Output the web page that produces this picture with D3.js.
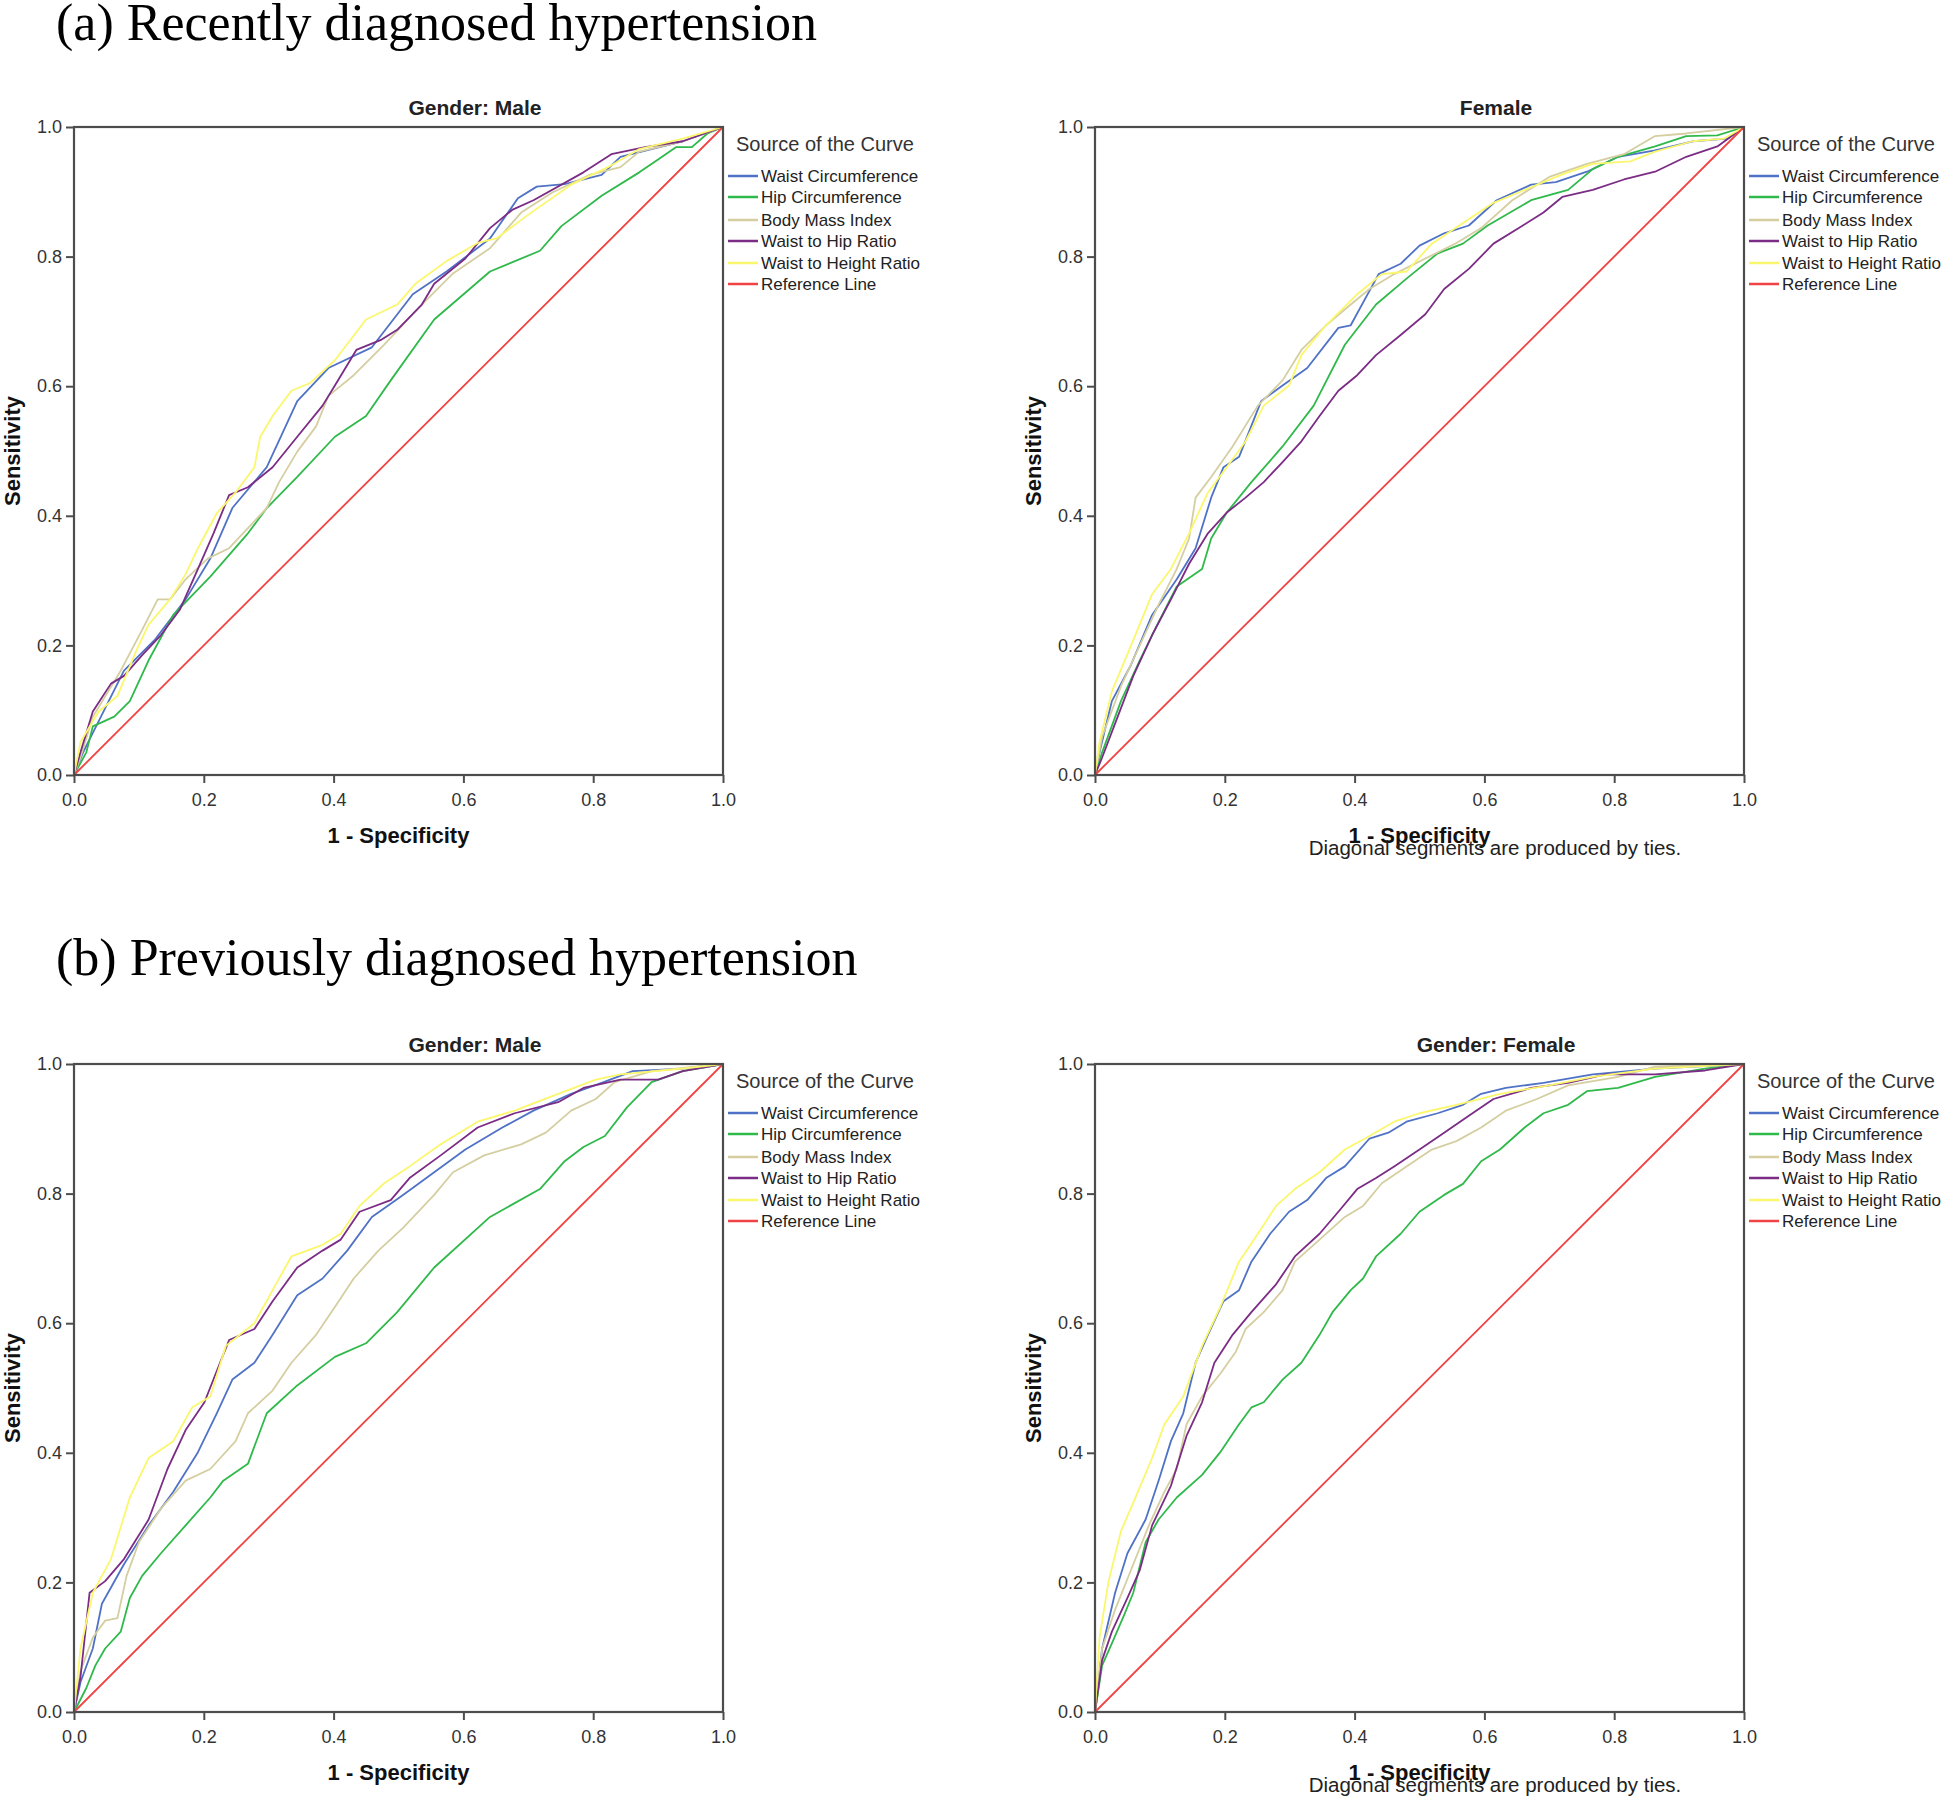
<!DOCTYPE html>
<html lang="en">
<head>
<meta charset="UTF-8">
<title>ROC curves - hypertension</title>
<script src="https://d3js.org/d3.v7.min.js"></script>
<style>
    body { margin: 0; background: #fff; }
    svg text { font-family: "Liberation Sans", Arial, sans-serif; }
    .section-title { font-family: "Liberation Serif", "Times New Roman", serif !important; font-size: 52px; fill: #000; }
    .tick text { font-size: 18px; fill: #333; }
    .tick line { stroke: #4d4d4d; stroke-width: 2; }
</style>
</head>
<body>
<svg id="chart" width="1946" height="1799"></svg>
<script>
// legend / series
const seriesNames = ["Waist Circumference", "Hip Circumference", "Body Mass Index",
    "Waist to Hip Ratio", "Waist to Height Ratio", "Reference Line"];
const seriesColors = ["#5072c6", "#30b94b", "#d5cea0", "#7b2c85", "#fbf76c", "#f04343"];
const tickValues = [0, 0.2, 0.4, 0.6, 0.8, 1.0];
const sectionTitles = ["(a) Recently diagnosed hypertension", "(b) Previously diagnosed hypertension"];
const panelTitles = ["Gender: Male", "Female", "Gender: Male", "Gender: Female"];
const footnote = "Diagonal segments are produced by ties.";
const refLine = [[0, 0], [1, 1]];

// (a) recently diagnosed, male  [1 - specificity, sensitivity]
const aMaleWaist = [[0,0],[0.014,0.035],[0.077,0.161],[0.124,0.208],[0.172,0.271],[0.21,0.334],[0.244,0.412],[0.297,0.475],[0.344,0.577],[0.392,0.628],[0.459,0.66],[0.522,0.742],[0.574,0.777],[0.641,0.828],[0.684,0.89],[0.713,0.908],[0.756,0.912],[0.813,0.926],[0.842,0.954],[0.89,0.966],[0.938,0.978],[1,1]];
const aMaleHip = [[0,0],[0.019,0.035],[0.029,0.075],[0.062,0.09],[0.086,0.114],[0.115,0.177],[0.153,0.247],[0.21,0.306],[0.268,0.373],[0.297,0.412],[0.344,0.46],[0.402,0.522],[0.45,0.554],[0.488,0.609],[0.555,0.703],[0.641,0.777],[0.718,0.809],[0.751,0.847],[0.813,0.894],[0.871,0.93],[0.9,0.95],[0.928,0.969],[0.952,0.969],[0.976,0.99],[1,1]];
const aMaleBmi = [[0,0],[0.01,0.027],[0.029,0.09],[0.072,0.161],[0.105,0.224],[0.129,0.271],[0.148,0.271],[0.172,0.302],[0.206,0.334],[0.239,0.35],[0.268,0.381],[0.297,0.412],[0.316,0.452],[0.344,0.499],[0.373,0.538],[0.392,0.585],[0.431,0.617],[0.478,0.664],[0.536,0.726],[0.584,0.774],[0.641,0.813],[0.689,0.868],[0.737,0.899],[0.794,0.926],[0.842,0.938],[0.871,0.962],[0.938,0.978],[1,1]];
const aMaleWhr = [[0,0],[0.01,0.035],[0.029,0.098],[0.057,0.141],[0.077,0.153],[0.105,0.185],[0.134,0.216],[0.163,0.255],[0.191,0.318],[0.215,0.373],[0.239,0.432],[0.268,0.444],[0.306,0.475],[0.344,0.522],[0.383,0.57],[0.402,0.601],[0.435,0.656],[0.474,0.672],[0.498,0.687],[0.536,0.726],[0.555,0.758],[0.603,0.797],[0.641,0.844],[0.675,0.872],[0.708,0.887],[0.785,0.93],[0.828,0.958],[0.88,0.969],[0.938,0.978],[1,1]];
const aMaleWhtr = [[0,0],[0.01,0.051],[0.038,0.098],[0.067,0.122],[0.096,0.192],[0.115,0.232],[0.148,0.271],[0.172,0.31],[0.191,0.35],[0.22,0.404],[0.249,0.436],[0.278,0.475],[0.287,0.522],[0.306,0.554],[0.335,0.593],[0.364,0.605],[0.402,0.64],[0.45,0.703],[0.498,0.726],[0.526,0.758],[0.574,0.793],[0.622,0.821],[0.651,0.828],[0.699,0.864],[0.766,0.911],[0.823,0.938],[0.871,0.966],[0.938,0.982],[1,1]];

// (a) recently diagnosed, female
const aFemaleWaist = [[0,0],[0.007,0.035],[0.026,0.114],[0.055,0.169],[0.088,0.247],[0.126,0.302],[0.155,0.35],[0.179,0.428],[0.198,0.475],[0.222,0.491],[0.256,0.577],[0.289,0.601],[0.327,0.628],[0.375,0.69],[0.394,0.694],[0.437,0.773],[0.471,0.789],[0.5,0.817],[0.538,0.836],[0.576,0.848],[0.619,0.887],[0.672,0.911],[0.71,0.915],[0.758,0.931],[0.806,0.954],[0.863,0.964],[0.921,0.978],[0.974,0.982],[1,1]];
const aFemaleHip = [[0,0],[0.011,0.035],[0.04,0.114],[0.069,0.177],[0.098,0.236],[0.126,0.291],[0.165,0.318],[0.179,0.365],[0.203,0.405],[0.241,0.452],[0.289,0.507],[0.337,0.57],[0.385,0.664],[0.433,0.726],[0.48,0.766],[0.528,0.805],[0.567,0.82],[0.605,0.848],[0.672,0.887],[0.729,0.903],[0.767,0.935],[0.806,0.954],[0.863,0.97],[0.911,0.986],[0.959,0.987],[1,1]];
const aFemaleBmi = [[0,0],[0.011,0.059],[0.04,0.137],[0.069,0.2],[0.098,0.263],[0.126,0.318],[0.145,0.365],[0.155,0.428],[0.179,0.46],[0.212,0.507],[0.251,0.57],[0.289,0.609],[0.318,0.656],[0.356,0.694],[0.394,0.726],[0.423,0.75],[0.461,0.773],[0.509,0.797],[0.557,0.821],[0.595,0.844],[0.643,0.887],[0.7,0.923],[0.758,0.943],[0.815,0.958],[0.863,0.986],[0.911,0.99],[1,1]];
const aFemaleWhr = [[0,0],[0.011,0.027],[0.035,0.09],[0.059,0.153],[0.088,0.216],[0.117,0.271],[0.145,0.326],[0.174,0.373],[0.203,0.405],[0.232,0.428],[0.26,0.452],[0.289,0.483],[0.318,0.515],[0.346,0.554],[0.375,0.593],[0.404,0.617],[0.433,0.648],[0.471,0.679],[0.509,0.711],[0.538,0.75],[0.576,0.781],[0.614,0.82],[0.653,0.844],[0.691,0.868],[0.72,0.892],[0.767,0.903],[0.815,0.919],[0.863,0.931],[0.911,0.954],[0.959,0.97],[1,1]];
const aFemaleWhtr = [[0,0],[0.007,0.051],[0.026,0.129],[0.059,0.208],[0.088,0.279],[0.117,0.318],[0.145,0.373],[0.174,0.436],[0.203,0.475],[0.232,0.515],[0.26,0.57],[0.299,0.601],[0.318,0.648],[0.356,0.694],[0.404,0.742],[0.442,0.773],[0.48,0.777],[0.519,0.82],[0.567,0.852],[0.614,0.883],[0.672,0.907],[0.72,0.927],[0.767,0.943],[0.825,0.947],[0.863,0.962],[0.921,0.978],[0.969,0.982],[1,1]];

// (b) previously diagnosed, male
const bMaleWaist = [[0,0],[0.01,0.046],[0.029,0.098],[0.043,0.167],[0.077,0.228],[0.115,0.288],[0.153,0.34],[0.191,0.401],[0.22,0.461],[0.244,0.513],[0.278,0.539],[0.306,0.582],[0.344,0.643],[0.383,0.669],[0.421,0.712],[0.459,0.764],[0.507,0.798],[0.555,0.833],[0.603,0.868],[0.66,0.902],[0.708,0.928],[0.766,0.954],[0.813,0.971],[0.861,0.989],[0.938,0.993],[1,1]];
const bMaleHip = [[0,0],[0.019,0.037],[0.033,0.072],[0.048,0.098],[0.072,0.124],[0.086,0.176],[0.105,0.21],[0.134,0.245],[0.172,0.288],[0.21,0.331],[0.23,0.357],[0.268,0.383],[0.297,0.461],[0.344,0.504],[0.402,0.548],[0.45,0.569],[0.498,0.617],[0.555,0.686],[0.641,0.764],[0.718,0.807],[0.756,0.85],[0.785,0.872],[0.818,0.889],[0.852,0.933],[0.89,0.972],[0.938,0.989],[1,1]];
const bMaleBmi = [[0,0],[0.01,0.063],[0.029,0.115],[0.048,0.141],[0.067,0.145],[0.081,0.21],[0.1,0.262],[0.134,0.314],[0.172,0.357],[0.21,0.375],[0.249,0.418],[0.268,0.461],[0.306,0.496],[0.335,0.539],[0.373,0.582],[0.402,0.625],[0.431,0.669],[0.469,0.712],[0.507,0.747],[0.555,0.798],[0.584,0.833],[0.632,0.859],[0.689,0.876],[0.727,0.894],[0.766,0.928],[0.804,0.946],[0.833,0.972],[0.89,0.989],[1,1]];
const bMaleWhr = [[0,0],[0.01,0.054],[0.024,0.184],[0.048,0.202],[0.077,0.236],[0.115,0.297],[0.144,0.375],[0.172,0.435],[0.201,0.478],[0.225,0.539],[0.239,0.574],[0.278,0.591],[0.306,0.634],[0.344,0.686],[0.383,0.712],[0.411,0.729],[0.44,0.772],[0.488,0.79],[0.517,0.824],[0.565,0.859],[0.622,0.902],[0.679,0.924],[0.746,0.941],[0.785,0.963],[0.842,0.976],[0.9,0.976],[0.938,0.989],[1,1]];
const bMaleWhtr = [[0,0],[0.01,0.098],[0.029,0.184],[0.057,0.236],[0.086,0.331],[0.115,0.392],[0.153,0.418],[0.182,0.47],[0.21,0.487],[0.234,0.565],[0.278,0.6],[0.306,0.651],[0.335,0.703],[0.383,0.721],[0.411,0.738],[0.44,0.781],[0.478,0.816],[0.517,0.842],[0.565,0.876],[0.622,0.911],[0.679,0.928],[0.746,0.954],[0.804,0.976],[0.842,0.984],[0.938,0.993],[1,1]];

// (b) previously diagnosed, female
const bFemaleWaist = [[0,0],[0.011,0.098],[0.031,0.184],[0.05,0.245],[0.078,0.297],[0.098,0.357],[0.117,0.418],[0.136,0.461],[0.155,0.539],[0.174,0.582],[0.198,0.634],[0.222,0.651],[0.241,0.695],[0.27,0.738],[0.299,0.772],[0.327,0.79],[0.356,0.824],[0.385,0.842],[0.423,0.885],[0.452,0.894],[0.48,0.911],[0.528,0.924],[0.567,0.937],[0.595,0.954],[0.633,0.963],[0.691,0.971],[0.767,0.984],[0.863,0.993],[1,1]];
const bFemaleHip = [[0,0],[0.011,0.072],[0.026,0.106],[0.045,0.15],[0.059,0.184],[0.078,0.262],[0.098,0.297],[0.126,0.331],[0.165,0.366],[0.193,0.401],[0.222,0.444],[0.241,0.47],[0.26,0.478],[0.289,0.513],[0.318,0.539],[0.346,0.582],[0.366,0.617],[0.394,0.651],[0.413,0.669],[0.433,0.703],[0.471,0.738],[0.5,0.772],[0.538,0.798],[0.567,0.815],[0.595,0.85],[0.624,0.868],[0.662,0.902],[0.691,0.924],[0.729,0.937],[0.758,0.958],[0.806,0.963],[0.863,0.98],[0.94,0.993],[1,1]];
const bFemaleBmi = [[0,0],[0.011,0.098],[0.031,0.158],[0.059,0.228],[0.083,0.288],[0.107,0.34],[0.126,0.375],[0.141,0.444],[0.165,0.487],[0.193,0.522],[0.217,0.556],[0.232,0.591],[0.26,0.617],[0.289,0.651],[0.308,0.695],[0.346,0.729],[0.385,0.764],[0.413,0.781],[0.442,0.816],[0.48,0.842],[0.519,0.868],[0.557,0.881],[0.595,0.902],[0.633,0.928],[0.681,0.946],[0.729,0.967],[0.806,0.98],[0.863,0.996],[1,1]];
const bFemaleWhr = [[0,0],[0.011,0.08],[0.026,0.124],[0.05,0.176],[0.069,0.219],[0.088,0.288],[0.117,0.349],[0.141,0.426],[0.165,0.478],[0.184,0.539],[0.212,0.582],[0.241,0.617],[0.279,0.66],[0.308,0.703],[0.346,0.738],[0.375,0.772],[0.404,0.807],[0.433,0.824],[0.461,0.842],[0.5,0.868],[0.538,0.894],[0.576,0.92],[0.614,0.946],[0.672,0.963],[0.729,0.971],[0.787,0.984],[0.863,0.984],[0.94,0.99],[1,1]];
const bFemaleWhtr = [[0,0],[0.007,0.115],[0.021,0.202],[0.04,0.279],[0.059,0.323],[0.088,0.392],[0.107,0.444],[0.136,0.487],[0.165,0.565],[0.193,0.625],[0.222,0.695],[0.251,0.738],[0.279,0.781],[0.308,0.807],[0.346,0.833],[0.385,0.868],[0.423,0.889],[0.461,0.911],[0.5,0.924],[0.557,0.937],[0.624,0.954],[0.7,0.967],[0.767,0.98],[0.863,0.993],[1,1]];

const panelCurves = [
    [aMaleWaist, aMaleHip, aMaleBmi, aMaleWhr, aMaleWhtr, refLine],
    [aFemaleWaist, aFemaleHip, aFemaleBmi, aFemaleWhr, aFemaleWhtr, refLine],
    [bMaleWaist, bMaleHip, bMaleBmi, bMaleWhr, bMaleWhtr, refLine],
    [bFemaleWaist, bFemaleHip, bFemaleBmi, bFemaleWhr, bFemaleWhtr, refLine]
];

const plotW = 649, plotH = 648;
const plotLefts = [74, 1095];
const plotTops = [127, 1064];
const titleBaselines = [40, 975];

const svg = d3.select("#chart");

sectionTitles.forEach((t, i) => {
    svg.append("text")
        .attr("class", "section-title")
        .attr("x", 56)
        .attr("y", titleBaselines[i])
        .text(t);
});

function drawPanel(idx) {
    const row = Math.floor(idx / 2), col = idx % 2;
    const g = svg.append("g")
        .attr("transform", `translate(${plotLefts[col]},${plotTops[row]})`);

    const x = d3.scaleLinear().domain([0, 1]).range([0, plotW]);
    const y = d3.scaleLinear().domain([0, 1]).range([plotH, 0]);

    // axes
    const xAxis = g.append("g")
        .attr("transform", `translate(0,${plotH})`)
        .call(d3.axisBottom(x).tickValues(tickValues).tickFormat(d3.format(".1f"))
            .tickSize(8).tickPadding(10));
    xAxis.select(".domain").remove();

    const yAxis = g.append("g")
        .call(d3.axisLeft(y).tickValues(tickValues).tickFormat(d3.format(".1f"))
            .tickSize(8).tickPadding(4));
    yAxis.select(".domain").remove();

    // curves
    const line = d3.line().x(d => x(d[0])).y(d => y(d[1]));
    panelCurves[idx].forEach((pts, i) => {
        g.append("path")
            .datum(pts)
            .attr("d", line)
            .attr("fill", "none")
            .attr("stroke", seriesColors[i])
            .attr("stroke-width", 1.8)
            .attr("stroke-linejoin", "round");
    });

    // frame
    g.append("rect")
        .attr("width", plotW).attr("height", plotH)
        .attr("fill", "none")
        .attr("stroke", "#4d4d4d")
        .attr("stroke-width", 2.2);

    // panel title
    g.append("text")
        .attr("x", 401).attr("y", -12)
        .attr("text-anchor", "middle")
        .style("font-size", "21px").style("font-weight", "bold").style("fill", "#222")
        .text(panelTitles[idx]);

    // axis titles
    g.append("text")
        .attr("x", plotW / 2).attr("y", plotH + 68)
        .attr("text-anchor", "middle")
        .style("font-size", "22px").style("font-weight", "bold").style("fill", "#111")
        .text("1 - Specificity");

    g.append("text")
        .attr("transform", `translate(-54,${plotH / 2}) rotate(-90)`)
        .attr("text-anchor", "middle")
        .style("font-size", "22px").style("font-weight", "bold").style("fill", "#111")
        .text("Sensitivity");

    if (col === 1) {
        g.append("text")
            .attr("x", 400).attr("y", plotH + 80)
            .attr("text-anchor", "middle")
            .style("font-size", "20.5px").style("fill", "#222")
            .text(footnote);
    }

    // legend
    const leg = g.append("g").attr("transform", `translate(${plotW},0)`);
    leg.append("text")
        .attr("x", 13).attr("y", 24)
        .style("font-size", "20px").style("fill", "#333")
        .text("Source of the Curve");
    const rowY = [49, 70, 93, 114, 136, 157];
    seriesNames.forEach((name, i) => {
        leg.append("line")
            .attr("x1", 5).attr("x2", 35)
            .attr("y1", rowY[i]).attr("y2", rowY[i])
            .attr("stroke", seriesColors[i]).attr("stroke-width", 2.5);
        leg.append("text")
            .attr("x", 38).attr("y", rowY[i] + 6)
            .style("font-size", "17px").style("fill", "#222")
            .text(name);
    });
}

for (let i = 0; i < 4; i++) drawPanel(i);
</script>
</body>
</html>
